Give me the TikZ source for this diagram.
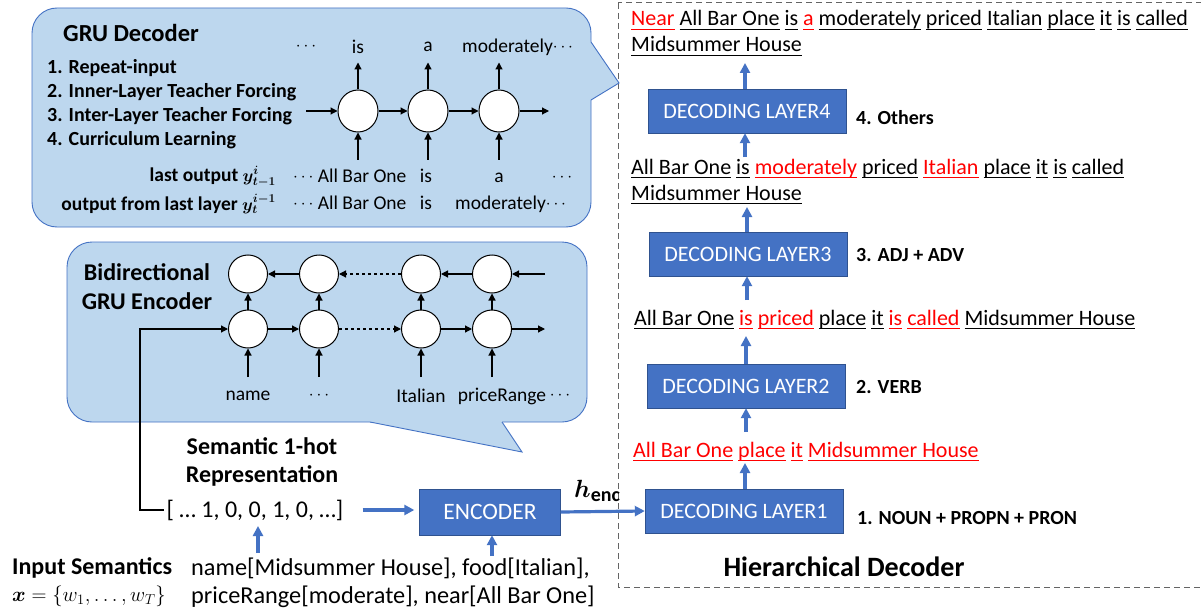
\documentclass[tikz,border=0pt]{standalone}
\usepackage{fontspec}
\setmainfont{Carlito}
\usepackage{bm}
\usetikzlibrary{arrows.meta,shapes.geometric}
\definecolor{obox}{RGB}{68,114,196}
\definecolor{oborder}{RGB}{47,82,143}
\definecolor{cfill}{RGB}{189,215,238}
\definecolor{dgray}{RGB}{100,100,100}
\newcommand\fsz[1]{\fontsize{#1}{#1}\selectfont}
\newcommand\uw[1]{\setbox0\hbox{#1}\rlap{\rule[-4pt]{\wd0}{1.4pt}}\box0\relax}
\newcommand\ur[1]{{\color{red}\uw{#1}}}
\newcommand\mdots{\raisebox{1pt}{\fontsize{16}{16}\selectfont$\cdots$}}
\begin{document}
\begin{tikzpicture}[x=1pt,y=-1pt,
  layer/.style={draw=oborder, fill=obox, text=white, minimum width=198, minimum height=44, inner sep=0, font=\fsz{22}},
  bluearr/.style={draw=obox, line width=3.2pt, -{Triangle[length=10pt,width=10pt]}},
  blk/.style={line width=1.2pt, -{Triangle[length=7pt,width=7pt]}},
  cell/.style={ellipse, draw, fill=white, line width=1pt, minimum width=40, minimum height=42, inner sep=0},
  ecell/.style={ellipse, draw, fill=white, line width=1pt, minimum width=39, minimum height=38, inner sep=0},
  sent/.style={anchor=base west, inner sep=0, font=\fsz{22}},
  lab/.style={inner sep=0, font=\fsz{19.5}},
  blab/.style={anchor=west, inner sep=0, font=\fsz{20}\bfseries},
  callout/.style={draw=obox, fill=cfill, line width=0.9pt}
]
\useasboundingbox (0,0) rectangle (1201,615);
\fill[white] (0,0) rectangle (1201,615);

% dashed hierarchical decoder frame
\draw[dgray, line width=1pt, dash pattern=on 6pt off 4pt] (618,3) rectangle (1206,587);

% ---------------- GRU decoder callout
\draw[callout, rounded corners=25] (32,8) rectangle (591,227);
\fill[cfill] (584,42) -- (591,42) -- (619,83) -- (591,100) -- (584,100) -- cycle;
\draw[draw=obox, line width=0.9pt] (591,42) -- (619,83) -- (591,100);

\node[anchor=west, inner sep=0, font=\fsz{24.5}\bfseries] (gtitle) at (63,33) {GRU Decoder};
\node[blab] (i1) at (47,68) {1. Repeat-input};
\node[blab] (i2) at (47,92) {2. Inner-Layer Teacher Forcing};
\node[blab] (i3) at (47,116) {3. Inter-Layer Teacher Forcing};
\node[blab] (i4) at (47,140) {4. Curriculum Learning};

\node[cell] (d1) at (358,111) {};
\node[cell] (d2) at (428,111) {};
\node[cell] (d3) at (499,111) {};
\coordinate (din) at (306,111);
\coordinate (dout) at (549,111);
\draw[blk] (din) -- (d1.west);
\draw[blk] (d1.east) -- (d2.west);
\draw[blk] (d2.east) -- (d3.west);
\draw[blk] (d3.east) -- (dout);
\foreach \n in {1,2,3}{
  \coordinate (du\n) at ([yshift=27]d\n.north);
  \coordinate (dd\n) at ([yshift=-27]d\n.south);
  \draw[blk] (d\n.north) -- (du\n);
  \draw[blk] (dd\n) -- (d\n.south);
}
\node[lab] (o0) at (306,47) {\mdots};
\node[lab] (o1) at (358,47) {is};
\node[lab] (o2) at (428,47) {a};
\node[lab, anchor=west] (o3) at (462,47) {moderately\mdots};

\node[anchor=base east, inner sep=0, font=\fsz{19.5}\bfseries] (lo) at (276,181) {last output {\fsz{18}$\bm{y^{i}_{t-1}}$}};
\node[anchor=base east, inner sep=0, font=\fsz{19.5}\bfseries] (lf) at (276,210) {output from last layer {\fsz{18}$\bm{y^{i-1}_{t}}$}};
\node[lab, anchor=base west] (r1a) at (293,182) {\mdots\ All Bar One};
\node[lab, anchor=base] (r1b) at (426,182) {is};
\node[lab, anchor=base] (r1c) at (499,182) {a};
\node[lab, anchor=base] (r1d) at (562,182) {\mdots};
\node[lab, anchor=base west] (r2a) at (293,209) {\mdots\ All Bar One};
\node[lab, anchor=base] (r2b) at (426,209) {is};
\node[lab, anchor=base west] (r2c) at (455,209) {moderately\mdots};

% ---------------- Encoder callout
\draw[callout, rounded corners=25] (67,242) rectangle (587,422);
\fill[cfill] (370,415) -- (370,422) -- (522,452) -- (502,422) -- (502,415) -- cycle;
\draw[draw=obox, line width=0.9pt] (370,422) -- (522,452) -- (502,422);

\node[align=center, inner sep=0, font=\fontsize{24}{29}\selectfont\bfseries] (etitle) at (147,287) {Bidirectional\\GRU Encoder};

\foreach \n/\x in {1/248,2/319,3/421,4/492}{
  \node[ecell] (t\n) at (\x,274) {};
  \node[ecell] (b\n) at (\x,329) {};
  \coordinate (bi\n) at (\x,377);
  \draw[blk] (b\n.north) -- (t\n.south);
  \draw[blk] (bi\n) -- (b\n.south);
}
\coordinate (tin) at (545,274);
\coordinate (bout) at (545,329);
\draw[blk] (tin) -- (t4.east);
\draw[blk] (t4.west) -- (t3.east);
\draw[line width=1.2pt, dashed, -{Triangle[length=7pt,width=7pt]}] (t3.west) -- (t2.east);
\draw[blk] (t2.west) -- (t1.east);
\draw[blk] (b1.east) -- (b2.west);
\draw[line width=1.2pt, dashed, -{Triangle[length=7pt,width=7pt]}] (b2.east) -- (b3.west);
\draw[blk] (b3.east) -- (b4.west);
\draw[blk] (b4.east) -- (bout);

\node[lab] (n1) at (248,396) {name};
\node[lab] (n2) at (319,396) {\mdots};
\node[lab] (n3) at (421,396) {Italian};
\node[lab] (n4) at (502,396) {priceRange};
\node[lab] (n5) at (560,396) {\mdots};

% ---------------- bottom left
\node[align=center, inner sep=0, font=\fontsize{24}{28}\selectfont\bfseries] (sem) at (262,462) {Semantic 1-hot\\Representation};
\node[inner sep=3pt, font=\fsz{24}] (onehot) at (255,510) {[ … 1, 0, 0, 1, 0, …]};
\coordinate (lc) at (140,329);
\draw[blk] (onehot.west) -- (onehot.west -| lc) -- (lc) -- (b1.west);

\node[draw=oborder, fill=obox, text=white, minimum width=141, minimum height=46, inner sep=0, font=\fsz{23.5}] (enc) at (490,512) {ENCODER};
\node[anchor=west, inner sep=0, font=\fsz{24}\bfseries] (is1) at (12,568) {Input Semantics};
\node[anchor=west, inner sep=0, font=\fsz{20}] (is2) at (12,596) {$\bm{x}=\{w_1,\dots,w_T\}$};
\node[anchor=west, inner sep=0, font=\fsz{24.3}] (in1) at (191,568) {name[Midsummer House], food[Italian],};
\node[anchor=west, inner sep=0, font=\fsz{24.3}] (in2) at (191,597) {priceRange[moderate], near[All Bar One]};

\coordinate (ohin) at (258,553);
\coordinate (ohtop) at (258,526);
\coordinate (encin) at (492,556);
\draw[bluearr] (ohin) -- (ohtop);
\draw[bluearr] (encin) -- (enc.south -| encin);
\draw[bluearr, shorten <=16pt, shorten >=5pt] (onehot.east) -- (onehot.east -| enc.west);

% ---------------- hierarchical decoder
\node[layer] (l4) at (747,111) {DECODING LAYER4};
\node[layer] (l3) at (748,254) {DECODING LAYER3};
\node[layer] (l2) at (746,386) {DECODING LAYER2};
\node[layer] (l1) at (744,511) {DECODING LAYER1};

\draw[bluearr] (enc.east) -- (l1.west);
\node[anchor=base west, inner sep=0, font=\fsz{27}] (henc) at (574,497) {$\bm{h}$\raisebox{-4pt}{\fsz{20}$\mathbf{enc}$}};

\node[blab] (c4) at (856,118) {4. Others};
\node[blab] (c3) at (856,255) {3. ADJ + ADV};
\node[blab] (c2) at (856,387) {2. VERB};
\node[blab] (c1) at (857,518) {1. NOUN + PROPN + PRON};

\node[sent] (s1) at (631,26) {\ur{Near} \uw{All Bar One} \uw{is} \ur{a} \uw{moderately} \uw{priced} \uw{Italian} \uw{place} \uw{it} \uw{is} \uw{called}};
\node[sent] (s2) at (631,52) {\uw{Midsummer House}};
\node[sent] (s3) at (631,174) {\uw{All Bar One} \uw{is} \ur{moderately} \uw{priced} \ur{Italian} \uw{place} \uw{it} \uw{is} \uw{called}};
\node[sent] (s4) at (631,200) {\uw{Midsummer House}};
\node[sent] (s5) at (634,325) {\uw{All Bar One} \ur{is} \ur{priced} \uw{place} \uw{it} \ur{is} \ur{called} \uw{Midsummer House}};
\node[sent] (s7) at (633,457) {\ur{All Bar One} \ur{place} \ur{it} \ur{Midsummer House}};

\coordinate (a4) at (745,63);
\coordinate (a3t) at (747,207);
\coordinate (a3b) at (747,300);
\coordinate (a2t) at (746,336);
\coordinate (a2b) at (746,432);
\coordinate (a1t) at (745,463);
\coordinate (a4b) at (745,157);
\draw[bluearr] (l4.north -| a4) -- (a4);
\draw[bluearr] (a4b) -- (l4.south -| a4b);
\draw[bluearr] (l3.north -| a3t) -- (a3t);
\draw[bluearr] (a3b) -- (l3.south -| a3b);
\draw[bluearr] (l2.north -| a2t) -- (a2t);
\draw[bluearr] (a2b) -- (l2.south -| a2b);
\draw[bluearr] (l1.north -| a1t) -- (a1t);

\node[inner sep=0, font=\fsz{28}\bfseries] (hd) at (844,567) {Hierarchical Decoder};
\end{tikzpicture}
\end{document}
